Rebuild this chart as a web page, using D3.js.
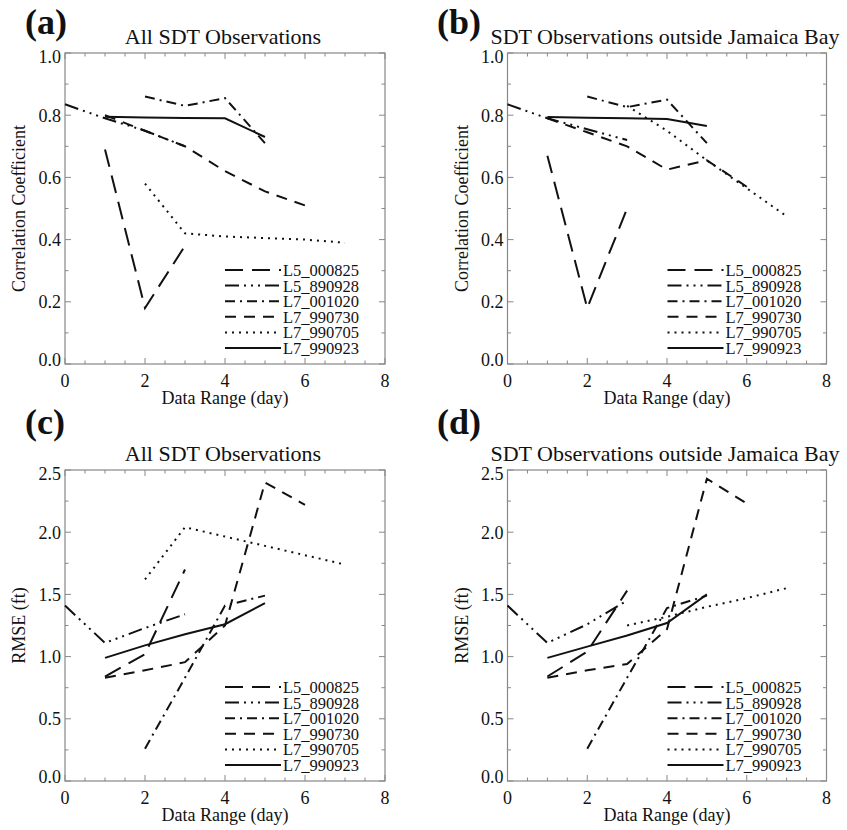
<!DOCTYPE html>
<html>
<head>
<meta charset="utf-8">
<script src="https://cdn.jsdelivr.net/npm/d3@7"></script>
<style>
  body { margin: 0; background: #fff; }
  svg { display: block; }
  text { font-family: "Liberation Serif", "Times New Roman", serif; fill: #111; }
</style>
</head>
<body>
<script>
// x values shared by every series
const days = [0, 1, 2, 3, 4, 5, 6, 7];
const seriesNames = ['L5_000825', 'L5_890928', 'L7_001020', 'L7_990730', 'L7_990705', 'L7_990923'];

// rows follow seriesNames, null = no value at that day
const corrAll = [
  [null, 0.69, 0.18, 0.38, null, null, null, null],
  [0.835, 0.79, 0.75, 0.70, null, null, null, null],
  [null, null, 0.86, 0.83, 0.855, 0.71, null, null],
  [null, 0.80, 0.75, 0.70, 0.62, 0.555, 0.51, null],
  [null, null, 0.58, 0.42, 0.41, 0.405, 0.40, 0.39],
  [null, 0.795, 0.793, 0.791, 0.79, 0.73, null, null],
];
const corrOut = [
  [null, 0.67, 0.18, 0.50, null, null, null, null],
  [0.835, 0.79, 0.755, 0.72, null, null, null, null],
  [null, null, 0.86, 0.826, 0.85, 0.71, null, null],
  [null, 0.79, 0.745, 0.70, 0.625, 0.655, 0.57, null],
  [null, null, null, 0.83, 0.75, 0.655, 0.565, 0.475],
  [null, 0.794, 0.792, 0.79, 0.788, 0.765, null, null],
];
const rmseAll = [
  [null, 0.84, 1.02, 1.70, null, null, null, null],
  [1.41, 1.11, 1.23, 1.34, null, null, null, null],
  [null, null, 0.26, 0.83, 1.41, 1.49, null, null],
  [null, 0.83, 0.89, 0.955, 1.25, 2.40, 2.22, null],
  [null, null, 1.62, 2.04, 1.965, 1.89, 1.815, 1.74],
  [null, 0.99, 1.09, 1.18, 1.26, 1.43, null, null],
];
const rmseOut = [
  [null, 0.84, 1.04, 1.53, null, null, null, null],
  [1.41, 1.11, 1.26, 1.45, null, null, null, null],
  [null, null, 0.26, 0.83, 1.39, 1.49, null, null],
  [null, 0.83, 0.89, 0.94, 1.22, 2.43, 2.23, null],
  [null, null, null, 1.25, 1.32, 1.40, 1.47, 1.55],
  [null, 0.99, 1.08, 1.17, 1.27, 1.50, null, null],
];

const xTicks = [0, 2, 4, 6, 8];
const corrTicks = [0, 0.2, 0.4, 0.6, 0.8, 1.0];
const rmseTicks = [0, 0.5, 1.0, 1.5, 2.0, 2.5];

// IDL style line patterns, same order as seriesNames
const dashes = ['18,9', '14,5,2,5,2,5,2,5', '10,5,2,5', '11,8', '2,5', null];

const panels = [
  { tag: '(a)', title: 'All SDT Observations', rows: corrAll, ticks: corrTicks, minor: 0.1,
    yLabel: 'Correlation Coefficient', left: 65, right: 385, top: 53, bottom: 364, tagX: 25, tagY: 34 },
  { tag: '(b)', title: 'SDT Observations outside Jamaica Bay', rows: corrOut, ticks: corrTicks, minor: 0.1,
    yLabel: 'Correlation Coefficient', left: 507.5, right: 826.5, top: 53, bottom: 364, tagX: 437, tagY: 34 },
  { tag: '(c)', title: 'All SDT Observations', rows: rmseAll, ticks: rmseTicks, minor: 0.25,
    yLabel: 'RMSE (ft)', left: 65, right: 385, top: 470, bottom: 781, tagX: 25, tagY: 434 },
  { tag: '(d)', title: 'SDT Observations outside Jamaica Bay', rows: rmseOut, ticks: rmseTicks, minor: 0.25,
    yLabel: 'RMSE (ft)', left: 507.5, right: 826.5, top: 470, bottom: 781, tagX: 437, tagY: 434 },
];

const svg = d3.select('body').append('svg').attr('width', 847).attr('height', 830);

panels.forEach((p) => {
  const yMax = p.ticks[p.ticks.length - 1];
  const x = d3.scaleLinear().domain([0, 8]).range([p.left, p.right]);
  const y = d3.scaleLinear().domain([0, yMax]).range([p.bottom, p.top]);
  const g = svg.append('g');

  const xMinor = d3.range(0, 8.001, 0.5).filter((v) => v % 2 !== 0);
  const yMinor = d3.range(0, yMax + 1e-6, p.minor).filter((v) => !p.ticks.some((t) => Math.abs(t - v) < 1e-6));

  // ticks inward on all four sides
  const tickG = g.append('g').attr('stroke', '#888').attr('stroke-width', 1);
  const xt = xTicks.map((v) => [v, 6]).concat(xMinor.map((v) => [v, 3.5]));
  const yt = p.ticks.map((v) => [v, 6]).concat(yMinor.map((v) => [v, 3.5]));
  xt.forEach(([v, len]) => {
    tickG.append('line').attr('x1', x(v)).attr('x2', x(v)).attr('y1', p.bottom).attr('y2', p.bottom - len);
    tickG.append('line').attr('x1', x(v)).attr('x2', x(v)).attr('y1', p.top).attr('y2', p.top + len);
  });
  yt.forEach(([v, len]) => {
    tickG.append('line').attr('y1', y(v)).attr('y2', y(v)).attr('x1', p.left).attr('x2', p.left + len);
    tickG.append('line').attr('y1', y(v)).attr('y2', y(v)).attr('x1', p.right).attr('x2', p.right - len);
  });

  g.append('rect')
    .attr('x', p.left).attr('y', p.top)
    .attr('width', p.right - p.left).attr('height', p.bottom - p.top)
    .attr('fill', 'none').attr('stroke', '#888').attr('stroke-width', 1.2);

  g.selectAll('.xl').data(xTicks).enter().append('text')
    .attr('x', (d) => x(d)).attr('y', p.bottom + 23)
    .attr('text-anchor', 'middle').attr('font-size', 18)
    .text((d) => d);

  g.selectAll('.yl').data(p.ticks).enter().append('text')
    .attr('x', p.left - 4)
    .attr('y', (d, i) => y(d) + (i === 0 ? -4 : i === p.ticks.length - 1 ? 4 : 0))
    .attr('dy', '0.35em')
    .attr('text-anchor', 'end').attr('font-size', 18)
    .text((d) => d3.format('.1f')(d));

  g.append('text')
    .attr('x', (p.left + p.right) / 2).attr('y', p.bottom + 40)
    .attr('text-anchor', 'middle').attr('font-size', 18)
    .text('Data Range (day)');

  g.append('text')
    .attr('transform', `translate(${p.left - 40},${(p.top + p.bottom) / 2}) rotate(-90)`)
    .attr('text-anchor', 'middle').attr('font-size', 18)
    .text(p.yLabel);

  g.append('text')
    .attr('x', (p.left + p.right) / 2 - 2).attr('y', p.top - 9)
    .attr('text-anchor', 'middle').attr('font-size', 22)
    .text(p.title);

  g.append('text')
    .attr('x', p.tagX).attr('y', p.tagY)
    .attr('font-size', 36).attr('font-weight', 'bold')
    .text(p.tag);

  const line = d3.line()
    .defined((d) => d[1] != null)
    .x((d) => x(d[0]))
    .y((d) => y(d[1]));

  p.rows.forEach((row, i) => {
    g.append('path')
      .datum(days.map((d, j) => [d, row[j]]))
      .attr('d', line)
      .attr('fill', 'none')
      .attr('stroke', '#111')
      .attr('stroke-width', 2)
      .attr('stroke-dasharray', dashes[i]);
  });

  // legend
  const leg = g.append('g');
  seriesNames.forEach((name, i) => {
    const ly = p.bottom - 94 + i * 15.6;
    leg.append('line')
      .attr('x1', p.left + 160).attr('x2', p.left + 216)
      .attr('y1', ly).attr('y2', ly)
      .attr('stroke', '#111').attr('stroke-width', 2)
      .attr('stroke-dasharray', dashes[i]);
    leg.append('text')
      .attr('x', p.left + 218).attr('y', ly).attr('dy', '0.36em')
      .attr('font-size', 16.5)
      .text(name);
  });
});
</script>
</body>
</html>
